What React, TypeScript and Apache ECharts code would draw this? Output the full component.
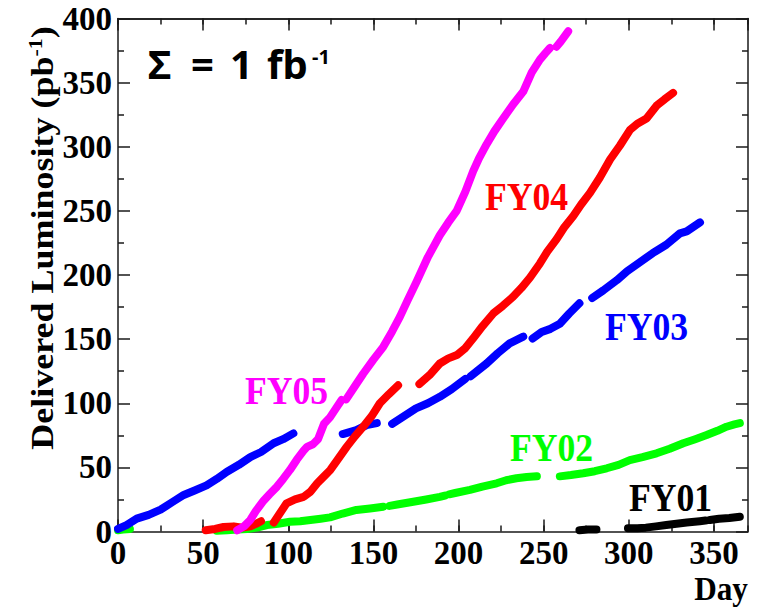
import React, { useEffect, useRef } from "react";
import * as echarts from "echarts";

// Cumulative delivered luminosity (pb^-1) versus day of fiscal year.
// null entries mark breaks in a run.
const fy01Day = [271, 276, 281, null, 299.5, 305, 310, 316, 322, 328, 334, 341.7, 345, null, 347.6, 353, 359, 365.2];
const fy01Lum = [1, 1.5, 1.5, null, 2.5, 2.5, 3, 4, 5, 6, 7, 8, 8.5, null, 9, 10, 10.5, 11.5];

const fy02Day = [0, 3, 7, null, 58, 64, 70, 76, 81.6, 87.5, 94, 101, 107, 113, 119, 124.5, 132, 140, 148, 155.8, null, 159.5, 164, 173.4, 181, 189, 192, null, 194.5, 198, 206.7, 214, 222.4, 228, 234, 240, 246, null, 259.5, 266, 273.2, 280, 287, 294, 300.6, 308, 316.3, 324, 332, 339, 345.7, 352, 357.4, 362, 365.2];
const fy02Lum = [1, 1.5, 2, null, 0.5, 1, 1.5, 2, 3, 5, 6, 7.6, 8, 9, 10, 11, 14, 16.8, 18, 19.3, null, 20, 21, 23.2, 25, 27, 28, null, 29, 30, 32.4, 35, 37.6, 40, 41.5, 42.5, 43, null, 43, 44, 45.4, 47, 49.3, 52, 55.7, 58, 61, 64.5, 68.8, 72, 75.2, 78.5, 81.7, 83.5, 84.5];

const fy03Day = [0, 5, 11, 18, 25, 32, 38.6, 45, 52, 58, 64, 71, 77.7, 84, 91.4, 97, 103, null, 132, 140, 146, 152, null, 161, 168, 175, 182, 189, 196, 204, null, 207, 216.5, 223, 230, 238, null, 243.5, 248.8, 254, 259.5, 265, 271, null, 278.5, 285, 293, 299, 306.5, 314, 322, 330, 334, 341.8];
const fy03Lum = [2, 5, 10, 13, 17, 23, 28.5, 32, 36, 41, 46.6, 52, 58, 62, 68.8, 72, 76.5, null, 76, 79, 83, 84.5, null, 84, 90, 96, 100, 105, 111, 119, null, 121, 131, 139, 146.7, 152, null, 150.5, 155.5, 158, 162, 170, 178, null, 182, 188, 196, 203, 210, 217, 223.6, 232.5, 234, 241];

const fy04Day = [51.5, 57, 62, 68, 73, 77.7, 81, 84, null, 91.5, 95, 99, 104, 109, 113, 117, 121, 124.7, 129, 134.3, 139, 144, 149, 153.8, 159, 164.5, null, 177, 183, 189, 194, 199, 204, 208.6, 214, 220.4, 226, 232, 237, 242, 247.8, 252, 257.6, 262, 267.4, 272, 277.2, 283, 289, 294.8, 300.6, 305, 310.4, 316.3, 321, 326];
const fy04Lum = [1, 2, 3.5, 4, 3, 4, 6, 8, null, 7, 14, 22, 25, 27, 31, 37.6, 43, 48, 56, 66, 74, 81.7, 90, 100, 107, 114, null, 115, 122, 131, 135, 137.6, 143, 150.6, 160, 170, 176, 183, 190, 198, 209, 218, 228, 237, 246, 255, 264, 276, 290, 301, 313, 318, 322, 332, 337, 342];

const fy05Day = [70, 74, 77.7, 81, 85.5, 89, 93.4, 97, 101, 105, 109, 111, 114.5, 117.5, 121, 124.5, 128, 131.3, null, 134, 139, 144, 150, 155.8, 161, 165.6, 170, 175.4, 182, 189, 194, 198.9, 204, 208.6, 212, 216.5, 221, 226.2, 232, 238, 243, 247.8, 251, 253.7, null, 257.5, 260, 264.4];
const fy05Lum = [1, 4, 9, 16, 24, 29, 35, 41, 48, 56, 63, 66, 68, 72, 84, 89, 96, 102.5, null, 103, 113, 123, 134, 144, 156, 167.5, 180, 195, 214, 231, 241, 250, 265, 281, 291, 302, 312, 322, 333, 343, 358, 368, 373, 377, null, 378, 382, 390];

const yearNames = ["FY01", "FY02", "FY03", "FY04", "FY05"];
const yearColors = ["#000000", "#00ff00", "#0000ff", "#ff0000", "#ff00ff"];

const dayMin = 0;
const dayMax = 370;
const lumMin = 0;
const lumMax = 400;

const SERIF = '"Liberation Serif", "Times New Roman", serif';
const FRAME = "#1a1a1a";

function toPoints(days: (number | null)[], lums: (number | null)[]) {
  return days.map((d, i) => (d === null || lums[i] === null ? ["-", "-"] : [d, lums[i]]));
}

const runs = [
  toPoints(fy01Day, fy01Lum),
  toPoints(fy02Day, fy02Lum),
  toPoints(fy03Day, fy03Lum),
  toPoints(fy04Day, fy04Lum),
  toPoints(fy05Day, fy05Lum),
];

function xAxisDef(position: "top" | "bottom", step: number, tickLen: number, labels: boolean) {
  return {
    type: "value",
    position,
    min: dayMin,
    max: dayMax,
    interval: step,
    axisLine: { show: labels || position === "top", onZero: false, lineStyle: { color: FRAME, width: 1.5 } },
    axisTick: { show: true, inside: true, length: tickLen, lineStyle: { color: FRAME, width: 1.5 } },
    axisLabel: labels
      ? {
          show: true,
          showMaxLabel: false,
          margin: 5,
          color: "#000",
          fontFamily: SERIF,
          fontWeight: "bold",
          fontSize: 33,
        }
      : { show: false },
    splitLine: { show: false },
  };
}

function yAxisDef(position: "left" | "right", labels: boolean) {
  return {
    type: "value",
    position,
    min: lumMin,
    max: lumMax,
    interval: 50,
    axisLine: { show: true, onZero: false, lineStyle: { color: FRAME, width: 1.5 } },
    axisTick: { show: true, inside: true, length: 12, lineStyle: { color: FRAME, width: 1.5 } },
    minorTick: { show: true, splitNumber: 2, length: 6, lineStyle: { color: FRAME, width: 1.5 } },
    axisLabel: labels
      ? { show: true, margin: 6, color: "#000", fontFamily: SERIF, fontWeight: "bold", fontSize: 33 }
      : { show: false },
    splitLine: { show: false },
    minorSplitLine: { show: false },
  };
}

// positions of the curve names
const namePlaces = [
  { x: 629, y: 497.5 },
  { x: 510, y: 447.5 },
  { x: 605, y: 326 },
  { x: 485, y: 196 },
  { x: 245, y: 390 },
];

export default function App() {
  const ref = useRef<HTMLDivElement>(null);

  useEffect(() => {
    if (!ref.current) return;
    const chart = echarts.init(ref.current, null, { renderer: "svg" });

    const nameLabels = yearNames.map((name, i) => ({
      type: "text",
      x: namePlaces[i].x,
      y: namePlaces[i].y,
      scaleX: 0.87,
      z: 10,
      style: {
        text: name,
        fill: yearColors[i],
        font: `bold 41px ${SERIF}`,
        align: "left",
        verticalAlign: "middle",
      },
    }));

    const sigmaFont = 'bold 40px "Noto Sans", "DejaVu Sans", sans-serif';

    chart.setOption({
      animation: false,
      backgroundColor: "#ffffff",
      grid: { left: 118, right: 10, top: 18.5, bottom: 76.5, containLabel: false },
      xAxis: [
        xAxisDef("bottom", 50, 12, true),
        xAxisDef("bottom", 25, 6, false),
        xAxisDef("top", 50, 12, false),
        xAxisDef("top", 25, 6, false),
      ],
      yAxis: [yAxisDef("left", true), yAxisDef("right", false)],
      series: runs.map((pts, i) => ({
        type: "line",
        name: yearNames[i],
        xAxisIndex: 0,
        yAxisIndex: 0,
        data: pts,
        symbol: "none",
        connectNulls: false,
        lineStyle: { color: yearColors[i], width: 8, cap: "round", join: "round" },
        z: 2 + i,
      })),
      graphic: [
        {
          type: "text",
          x: 42,
          y: 238,
          rotation: Math.PI / 2,
          scaleY: 0.9,
          style: {
            text: "{n|Delivered Luminosity (pb}{s|-1}{n|)}",
            align: "center",
            verticalAlign: "middle",
            rich: {
              n: { fontFamily: SERIF, fontWeight: "bold", fontSize: 36, fill: "#000" },
              s: { fontFamily: SERIF, fontWeight: "bold", fontSize: 22, fill: "#000", verticalAlign: "top" },
            },
          },
        },
        {
          type: "text",
          x: 748,
          y: 588.5,
          scaleX: 0.92,
          style: {
            text: "Day",
            fill: "#000",
            font: `bold 34px ${SERIF}`,
            align: "right",
            verticalAlign: "middle",
          },
        },
        { type: "text", x: 148, y: 63, style: { text: "Σ", fill: "#000", font: sigmaFont, align: "left", verticalAlign: "middle" } },
        { type: "text", x: 191, y: 63, style: { text: "=", fill: "#000", font: sigmaFont, align: "left", verticalAlign: "middle" } },
        { type: "text", x: 230, y: 63, style: { text: "1", fill: "#000", font: sigmaFont, align: "left", verticalAlign: "middle" } },
        { type: "text", x: 267, y: 63, style: { text: "fb", fill: "#000", font: sigmaFont, align: "left", verticalAlign: "middle" } },
        {
          type: "text",
          x: 312,
          y: 56,
          style: { text: "-1", fill: "#000", font: 'bold 20px "Noto Sans", "DejaVu Sans", sans-serif', align: "left", verticalAlign: "middle" },
        },
        ...nameLabels,
      ],
    });

    return () => chart.dispose();
  }, []);

  return (
    <div
      ref={ref}
      style={{ position: "absolute", left: 0, top: 0, width: 758, height: 608, background: "#fff" }}
    />
  );
}
